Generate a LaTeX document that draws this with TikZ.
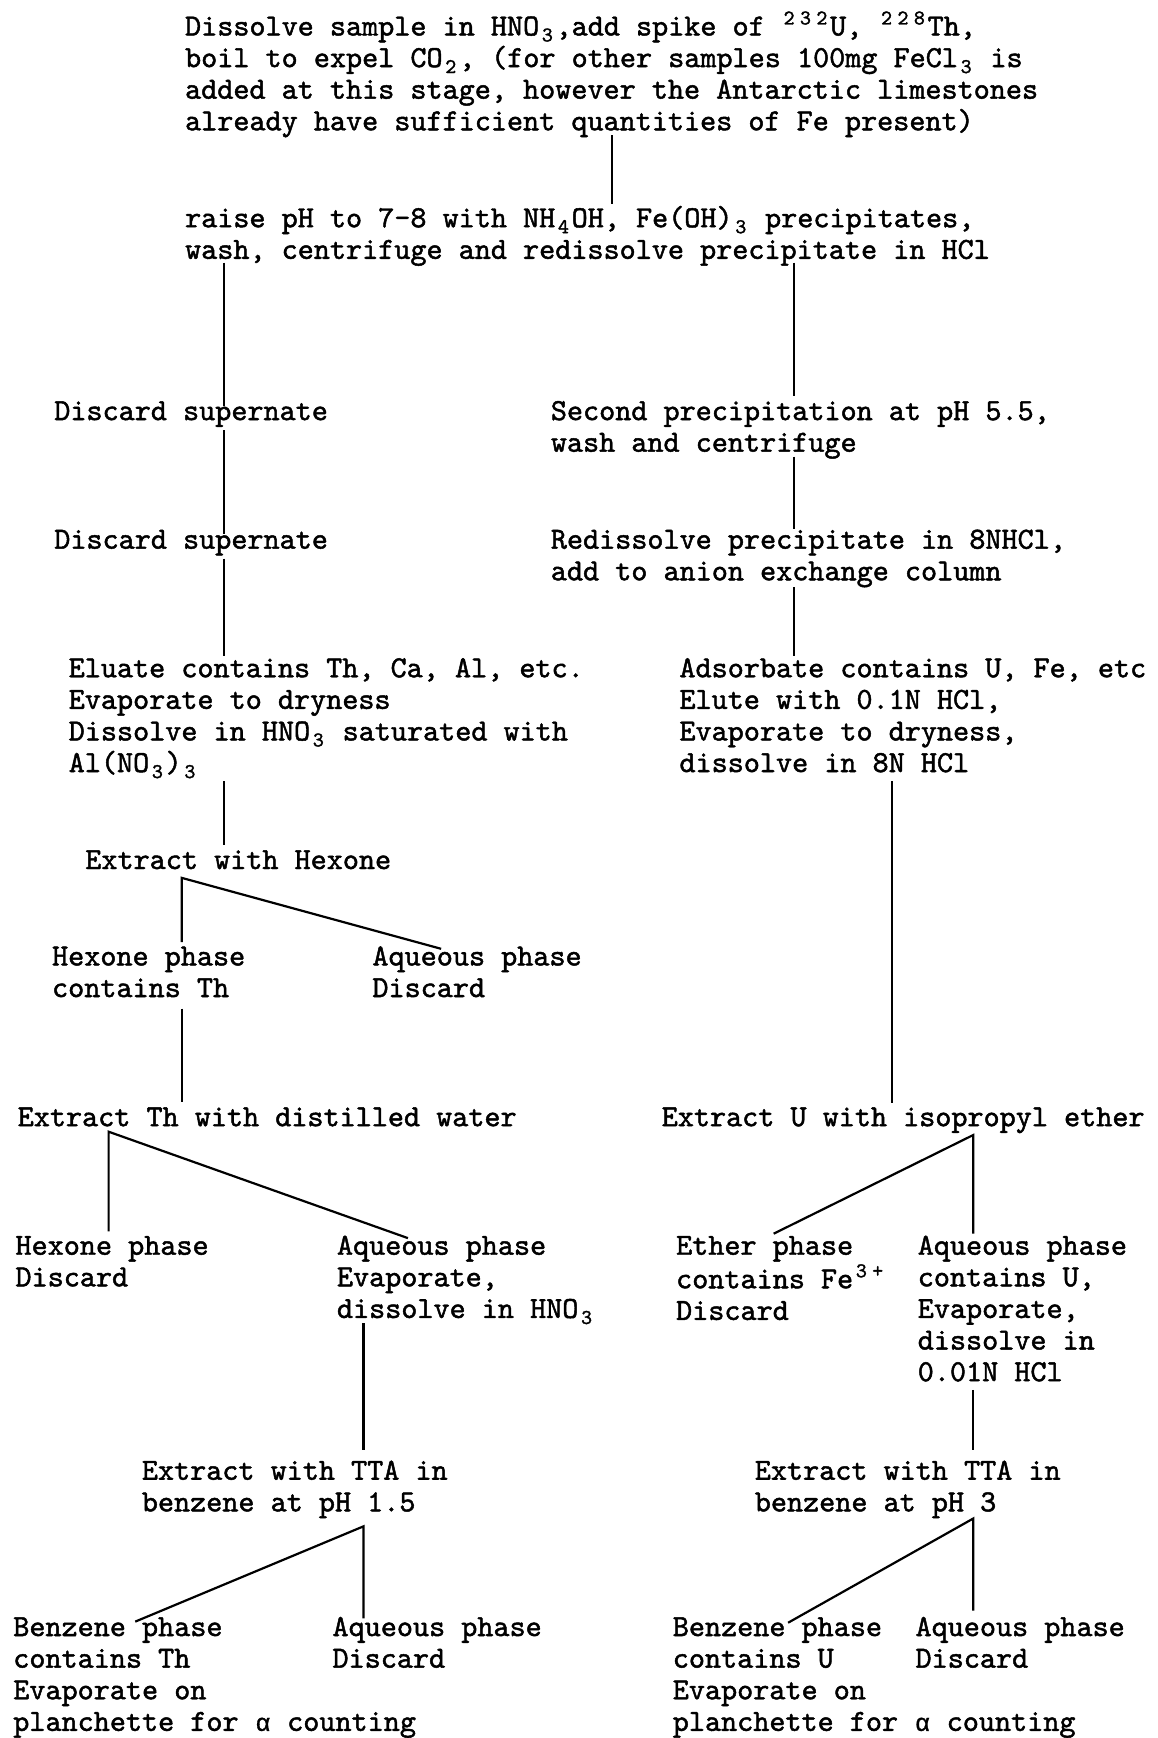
\documentclass[tikz,border=0pt]{standalone}
\usepackage{fontspec}
\usetikzlibrary{calc}
\newfontfamily\twfont{lmmono10-regular.otf}[FakeBold=1.5]
\newfontfamily\grkfont{Liberation Mono}[FakeBold=1.2]
\newlength\cellw \setlength\cellw{16.4pt}
\newcommand{\mysup}[1]{\makebox[\cellw][c]{\raisebox{11pt}{\fontsize{21}{21}\selectfont #1}}}
\newcommand{\mysub}[1]{\makebox[\cellw][c]{\raisebox{-6pt}{\fontsize{21}{21}\selectfont #1}}}
\newcommand{\myalpha}{\makebox[\cellw][c]{\grkfont\fontsize{24.5}{24.5}\selectfont α}}
\newcommand{\blk}[1]{\begin{tabular}[t]{@{}l@{}}#1\end{tabular}}
\begin{document}
\begin{tikzpicture}[x=1.1082pt,y=-1.1082pt,
  txt/.style={inner sep=0pt,outer sep=0pt,anchor=base west,
    font=\twfont\fontsize{30.65}{31.6}\selectfont\frenchspacing},
  ln/.style={line width=2.2pt}]
\fill[white] (0,0) rectangle (1044,1568);
\useasboundingbox (0,0) rectangle (1044,1568);

% ---- nodes ----
\node[txt] (n1) at (167,32) {\blk{Dissolve sample in HNO\mysub{3},add spike of \mysup{2}\mysup{3}\mysup{2}U, \mysup{2}\mysup{2}\mysup{8}Th,\\
boil to expel CO\mysub{2}, (for other samples 100mg FeCl\mysub{3} is\\
added at this stage, however the Antarctic limestones\\
already have sufficient quantities of Fe present)}};
\node[txt] (n2) at (167,205) {\blk{raise pH to 7-8 with NH\mysub{4}OH, Fe(OH)\mysub{3} precipitates,\\
wash, centrifuge and redissolve precipitate in HCl}};
\node[txt] (ds1) at (49,379) {\blk{Discard supernate}};
\node[txt] (sp) at (497,379) {\blk{Second precipitation at pH 5.5,\\wash and centrifuge}};
\node[txt] (ds2) at (49,495) {\blk{Discard supernate}};
\node[txt] (rd) at (497,495) {\blk{Redissolve precipitate in 8NHCl,\\add to anion exchange column}};
\node[txt] (el) at (62,611) {\blk{Eluate contains Th, Ca, Al, etc.\\Evaporate to dryness\\Dissolve in HNO\mysub{3} saturated with\\Al(NO\mysub{3})\mysub{3}}};
\node[txt] (ad) at (613,611) {\blk{Adsorbate contains U, Fe, etc\\Elute with 0.1N HCl,\\Evaporate to dryness,\\dissolve in 8N HCl}};
\node[txt] (eh) at (77,784) {\blk{Extract with Hexone}};
\node[txt] (hp) at (47,871) {\blk{Hexone phase\\contains Th}};
\node[txt] (aq1) at (336,871) {\blk{Aqueous phase\\Discard}};
\node[txt] (etw) at (16,1016) {\blk{Extract Th with distilled water}};
\node[txt] (hp2) at (14,1132) {\blk{Hexone phase\\Discard}};
\node[txt] (aq2) at (304,1132) {\blk{Aqueous phase\\Evaporate,\\dissolve in HNO\mysub{3}}};
\node[txt] (tta1) at (128,1335) {\blk{Extract with TTA in\\benzene at pH 1.5}};
\node[txt] (bz1) at (12,1476) {\blk{Benzene phase\\contains Th\\Evaporate on\\planchette for \myalpha{} counting}};
\node[txt] (aq3) at (300,1476) {\blk{Aqueous phase\\Discard}};
\node[txt] (eu) at (597,1016) {\blk{Extract U with isopropyl ether}};
\node[txt] (eth) at (610,1132) {\blk{Ether phase\\contains Fe\mysup{3}\mysup{+}\\Discard}};
\node[txt] (aq4) at (828,1132) {\blk{Aqueous phase\\contains U,\\Evaporate,\\dissolve in\\0.01N HCl}};
\node[txt] (tta2) at (681,1335) {\blk{Extract with TTA in\\benzene at pH 3}};
\node[txt] (bz2) at (607,1476) {\blk{Benzene phase\\contains U\\Evaporate on\\planchette for \myalpha{} counting}};
\node[txt] (aq5) at (826,1476) {\blk{Aqueous phase\\Discard}};

% ---- connectors ----
\draw[ln] ($(n1.base west)+(385,90)$) -- ($(n2.base west)+(385,-21)$);
\draw[ln] ($(n2.base west)+(35,32)$) -- ($(ds1.base west)+(153,-13)$);
\draw[ln] ($(ds1.base west)+(153,9)$) -- ($(ds2.base west)+(153,-13)$);
\draw[ln] ($(ds2.base west)+(153,9)$) -- ($(el.base west)+(140,-19)$);
\draw[ln] ($(n2.base west)+(549,32)$) -- ($(sp.base west)+(219,-22)$);
\draw[ln] ($(sp.base west)+(219,33)$) -- ($(rd.base west)+(219,-18)$);
\draw[ln] ($(rd.base west)+(219,35)$) -- ($(ad.base west)+(103,-19)$);
\draw[ln] ($(el.base west)+(140,94)$) -- ($(eh.base west)+(125,-22)$);
\draw[ln] ($(ad.base west)+(192,94)$) -- ($(eu.base west)+(208,-21)$);

\coordinate (bA) at ($(eh.base west)+(87,8)$);
\draw[ln] ($(hp.base west)+(117,-21)$) -- (bA) -- ($(aq1.base west)+(62,-15)$);
\draw[ln] ($(hp.base west)+(117,39)$) -- ($(etw.base west)+(148,-22)$);

\coordinate (bB) at ($(etw.base west)+(82,5)$);
\draw[ln] ($(hp2.base west)+(84,-21)$) -- (bB) -- ($(aq2.base west)+(64,-15)$);
\draw[ln] ($(aq2.base west)+(24,62)$) -- ($(tta1.base west)+(200,-27)$);

\coordinate (bC) at ($(tta1.base west)+(200,42)$);
\draw[ln] ($(aq3.base west)+(28,-16)$) -- (bC) -- ($(bz1.base west)+(110,-13)$);

\coordinate (bD) at ($(eu.base west)+(281,8)$);
\draw[ln] ($(aq4.base west)+(50,-19)$) -- (bD) -- ($(eth.base west)+(88,-19)$);
\draw[ln] ($(aq4.base west)+(50,122)$) -- ($(tta2.base west)+(197,-27)$);

\coordinate (bE) at ($(tta2.base west)+(197,35)$);
\draw[ln] ($(aq5.base west)+(52,-23)$) -- (bE) -- ($(bz2.base west)+(104,-12)$);
\end{tikzpicture}
\end{document}
